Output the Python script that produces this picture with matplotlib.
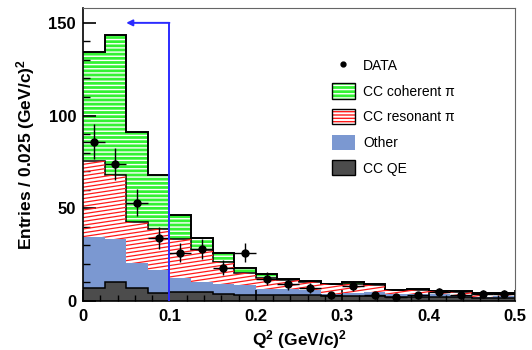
import numpy as np
import matplotlib
matplotlib.use('Agg')
import matplotlib.pyplot as plt
from matplotlib.patches import Patch
from matplotlib.lines import Line2D
from matplotlib.collections import LineCollection
from matplotlib.ticker import MultipleLocator

plt.rcParams['font.family'] = ['Liberation Sans', 'DejaVu Sans']
plt.rcParams['hatch.linewidth'] = 1.0
plt.rcParams['mathtext.fontset'] = 'custom'
plt.rcParams['mathtext.rm'] = 'Liberation Sans:bold'
plt.rcParams['mathtext.it'] = 'Liberation Sans:bold'
plt.rcParams['mathtext.bf'] = 'Liberation Sans:bold'

# binning: 20 bins of 0.025 (GeV/c)^2
bin_width = 0.025
q2_max = 0.5
edges = np.arange(0, q2_max + bin_width / 2, bin_width)
centers = edges[:-1] + bin_width / 2

# stacked MC components (entries per bin)
cc_qe = [6.8, 10.4, 7.2, 4.1, 4.7, 4.7, 3.8, 3.2, 3.0, 3.0,
         3.0, 2.8, 2.8, 2.5, 2.4, 2.2, 2.0, 2.0, 1.8, 1.8]
other = [27.6, 22.9, 13.1, 12.6, 7.9, 5.7, 5.2, 5.4, 3.5, 3.5,
         2.8, 1.2, 1.7, 2.3, 1.4, 1.8, 1.8, 1.2, 0.6, 0.9]
cc_res = [41.1, 34.7, 22.5, 22.0, 20.7, 17.1, 12.0, 6.4, 6.0, 5.0,
          4.6, 5.2, 4.5, 3.7, 1.9, 2.0, 1.4, 1.6, 1.6, 1.1]
cc_coh = [59.0, 75.5, 48.6, 29.3, 13.1, 6.3, 4.7, 3.0, 1.8, 0.5,
          0.2, 0.1, 1.0, 0.5, 0.2, 0.5, 0.2, 0.4, 0.1, 0.3]

# data counts
data = [86, 74, 53, 34, 26, 28, 18, 26, 12, 9,
        7, 3, 8, 3, 2, 3, 5, 3, 4, 4]

# selection cut shown by the arrow
cut_q2 = 0.1
arrow_y = 150
arrow_end = 0.05

c_qe = '#4c4c4c'
c_other = '#7b98d1'
c_res = '#ff1a1a'
c_coh = '#33f233'
c_arrow = '#2b2bff'

top1 = np.array(cc_qe)
top2 = top1 + np.array(other)
top3 = top2 + np.array(cc_res)
top4 = top3 + np.array(cc_coh)

fig = plt.figure(figsize=(5.32, 3.5), dpi=100)
ax = fig.add_axes([0.156, 0.14, 0.812, 0.836])

ax.stairs(top1, edges, baseline=0, fill=True, color=c_qe, lw=0)
ax.stairs(top2, edges, baseline=top1, fill=True, color=c_other, lw=0)
red_patch = ax.stairs(top3, edges, baseline=top2, fill=True, color='white', lw=0)
ax.stairs(top4, edges, baseline=top3, fill=True, facecolor=c_coh,
          edgecolor='white', hatch='----', lw=0)

# slanted red stripes, clipped to the resonant band
slope = 0.22
gap = 0.013
offs = np.arange(-0.3, 1.05, gap)
segs = [[(0, c), (1, c + slope)] for c in offs]
stripes = LineCollection(segs, colors=c_res, linewidths=0.9, transform=ax.transAxes)
ax.add_collection(stripes)
stripes.set_clip_path(red_patch)

# outlines
ax.stairs(top1, edges, baseline=None, color='black', lw=1.1)
ax.stairs(top3, edges, baseline=None, color='black', lw=1.1)
ax.stairs(top4, edges, baseline=None, color='black', lw=1.4)

ax.errorbar(centers, data, xerr=bin_width / 2, yerr=np.sqrt(data), fmt='o',
            color='black', ms=5.0, elinewidth=1.0, capsize=0, zorder=5)

ax.plot([cut_q2, cut_q2], [0, arrow_y], color=c_arrow, lw=1.4, zorder=6)
ax.annotate('', xy=(arrow_end, arrow_y), xytext=(cut_q2, arrow_y),
            arrowprops=dict(arrowstyle='-|>', color=c_arrow, lw=1.4,
                            mutation_scale=9, shrinkA=0, shrinkB=0), zorder=6)

ax.set_xlim(0, q2_max)
ax.set_ylim(0, 157.8)
ax.xaxis.set_major_locator(MultipleLocator(0.1))
ax.xaxis.set_minor_locator(MultipleLocator(0.02))
ax.yaxis.set_major_locator(MultipleLocator(50))
ax.yaxis.set_minor_locator(MultipleLocator(10))
ax.set_xticks(np.arange(0, 0.51, 0.1))
ax.set_xticklabels(['0', '0.1', '0.2', '0.3', '0.4', '0.5'])
ax.tick_params(which='both', direction='in', top=False, right=False)
ax.tick_params(axis='y', which='major', length=9, width=1.2, pad=5)
ax.tick_params(axis='y', which='minor', length=5, width=1.0)
ax.tick_params(axis='x', which='major', length=8, width=1.2, pad=6)
ax.tick_params(axis='x', which='minor', length=4.5, width=1.0)
for lab in ax.get_xticklabels() + ax.get_yticklabels():
    lab.set_fontsize(12)
    lab.set_fontweight('bold')
for side in ['top', 'right']:
    ax.spines[side].set_color('#666666')
for side in ['left', 'bottom']:
    ax.spines[side].set_linewidth(1.2)

ax.set_xlabel('Q$^{2}$ (GeV/c)$^{2}$', fontsize=12.5, fontweight='bold', labelpad=3)
ax.set_ylabel('Entries / 0.025 (GeV/c)$^{2}$', fontsize=12.5, fontweight='bold', labelpad=8)

frame = Patch(fill=False, edgecolor='black', lw=1.0)
handles = [
    Line2D([], [], marker='o', ls='none', color='black', ms=3.5),
    (Patch(facecolor=c_coh, edgecolor='white', hatch='----', lw=0), frame),
    (Patch(facecolor='white', edgecolor=c_res, hatch='-----', lw=0), frame),
    Patch(facecolor=c_other, lw=0),
    (Patch(facecolor=c_qe, lw=0), frame),
]
labels = ['DATA', 'CC coherent π', 'CC resonant π', 'Other', 'CC QE']
fig.legend(handles, labels, loc='upper left', bbox_to_anchor=(0.624, 0.835),
           frameon=False, fontsize=10, borderpad=0, borderaxespad=0,
           handlelength=1.65, handleheight=1.3, labelspacing=0.75,
           handletextpad=0.6)

fig.savefig('out.png', dpi=100)
